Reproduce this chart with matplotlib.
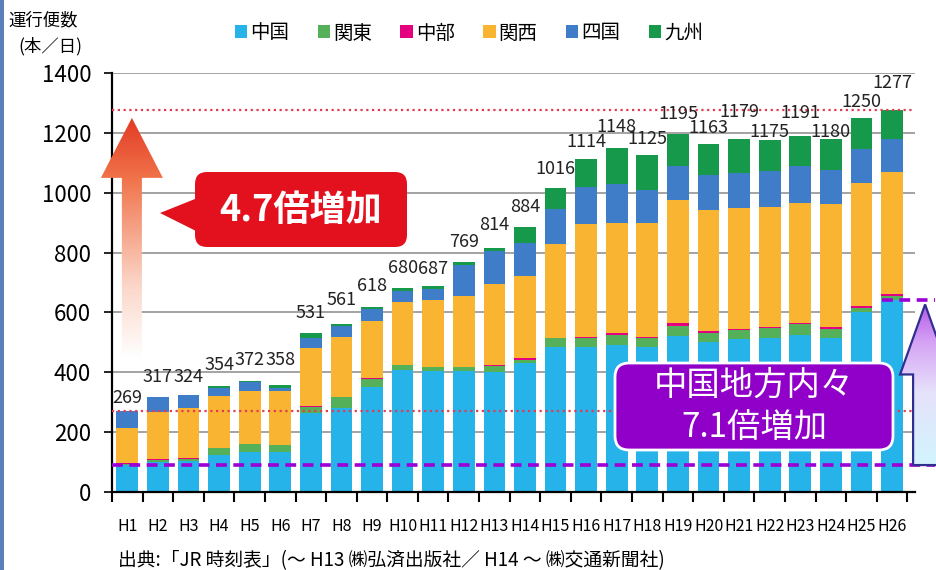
import numpy as np
import matplotlib
matplotlib.use('Agg')
import matplotlib.pyplot as plt
from matplotlib.patches import Polygon, FancyBboxPatch, Rectangle
from matplotlib.colors import LinearSegmentedColormap

plt.rcParams['font.family'] = ['Noto Sans CJK JP', 'DejaVu Sans']

# 運行便数 (本/日), 地域別の内訳
years = ['H%d' % i for i in range(1, 27)]
chugoku = [90, 100, 103, 124, 135, 135, 263, 280, 352, 408, 405, 405, 402,
           430, 485, 485, 490, 485, 520, 500, 510, 515, 525, 515, 600, 640]
kanto = [4, 8, 8, 22, 24, 22, 22, 37, 27, 16, 12, 12, 20,
         12, 28, 30, 35, 30, 36, 30, 30, 32, 38, 30, 15, 15]
chubu = [2, 2, 2, 1, 1, 1, 1, 1, 1, 1, 1, 2, 2,
         5, 2, 4, 5, 4, 9, 8, 5, 5, 2, 6, 6, 5]
kansai = [118, 157, 167, 175, 178, 178, 195, 200, 190, 210, 225, 235, 270,
          275, 315, 375, 370, 380, 410, 405, 405, 400, 400, 410, 410, 410]
shikoku = [55, 50, 44, 26, 28, 12, 35, 35, 40, 35, 34, 105, 110,
           110, 115, 125, 130, 110, 115, 115, 115, 120, 125, 115, 115, 110]
kyushu = [0, 0, 0, 6, 6, 10, 15, 8, 8, 10, 10, 10, 10,
          52, 71, 95, 118, 116, 105, 105, 114, 103, 101, 104, 104, 97]

regions = ['中国', '関東', '中部', '関西', '四国', '九州']
colors = ['#25b3ea', '#55b05a', '#e4007f', '#f9b431', '#3f7dc9', '#16994a']

# how far (px) each total label sits above its bar
label_lift = [13, 20, 18, 21, 21, 25, 20, 24, 21, 20, 17, 20, 23,
              20, 19, 17, 21, 16, 20, 16, 27, 8, 23, 7, 16, 27]

series = [chugoku, kanto, chubu, kansai, shikoku, kyushu]
totals = np.sum(series, axis=0)

fig = plt.figure(figsize=(9.37, 5.70), dpi=100)
ax = fig.add_axes([112 / 937, 1 - 492 / 570, (915 - 112) / 937, (492 - 73) / 570])

x = np.arange(len(years))
bottom = np.zeros(len(years))
for vals, name, c in zip(series, regions, colors):
    ax.bar(x, vals, 0.71, bottom=bottom, color=c, label=name, zorder=2)
    bottom += vals

for i, t in enumerate(totals):
    ax.annotate(str(int(t)), (i, t), xytext=(0, label_lift[i]), textcoords='offset pixels',
                ha='center', va='center', fontsize=13, color='#222222', zorder=6)

ax.set_xlim(-0.5, 25.75)
ax.set_ylim(0, 1400)
ax.set_yticks(range(0, 1401, 200))
ax.tick_params(axis='y', length=6, width=1.2, pad=9, labelsize=16)
ax.set_xticks(np.arange(-0.5, 26, 1))
ax.set_xticklabels([])
ax.set_xticks(x, minor=True)
ax.set_xticklabels(years, minor=True)
ax.tick_params(axis='x', which='major', length=7, width=1.5)
ax.tick_params(axis='x', which='minor', length=0, pad=19, labelsize=11.5)
ax.yaxis.grid(True, color='#8a8a8a', lw=1.1)
ax.set_axisbelow(True)
for s in ['top', 'right']:
    ax.spines[s].set_visible(False)
ax.spines['left'].set_linewidth(1.6)
ax.spines['bottom'].set_linewidth(1.6)

# growth reference lines
ax.axhline(totals[0], color='#e23c55', lw=1.6, ls=(0, (1, 1.6)), zorder=4)
ax.axhline(totals[-1], color='#e23c55', lw=1.6, ls=(0, (1, 1.6)), zorder=4)
ax.plot([-0.5, 26.4], [chugoku[0]] * 2, color='#9b00d6', lw=2.6, dashes=(3, 1.8),
        clip_on=False, zorder=4)
ax.plot([24.67, 26.4], [chugoku[-1]] * 2, color='#9b00d6', lw=2.6, dashes=(3, 1.8),
        clip_on=False, zorder=4)

ax.legend(ncol=6, loc='center', bbox_to_anchor=(469 / 937, 1 - 33 / 570),
          bbox_transform=fig.transFigure, frameon=False, fontsize=14,
          handlelength=0.65, handleheight=0.65, handletextpad=0.15,
          columnspacing=1.45)

fig.text(43 / 937, 1 - 20 / 570, '運行便数', ha='center', va='center', fontsize=12.5)
fig.text(50 / 937, 1 - 46 / 570, '(本／日)', ha='center', va='center', fontsize=12.5)
fig.text(118 / 937, 1 - 561 / 570, '出典:「JR 時刻表」(～ H13 ㈱弘済出版社／ H14 ～ ㈱交通新聞社)',
         ha='left', va='center', fontsize=13.5)

# overlay in figure pixels for arrows and callouts
ov = fig.add_axes([0, 0, 1, 1], zorder=5)
ov.patch.set_alpha(0)
ov.axis('off')


def to_px(xd, yd):
    return ax.transData.transform((xd, yd))


def grad_arrow(xc, y0, y1, shaft_hw, head_hw, head_len, stops, edge=None):
    pts = [(xc - shaft_hw, y0), (xc - shaft_hw, y1 - head_len), (xc - head_hw, y1 - head_len),
           (xc, y1), (xc + head_hw, y1 - head_len), (xc + shaft_hw, y1 - head_len),
           (xc + shaft_hw, y0)]
    poly = Polygon(pts, closed=True, fc='none', ec=edge if edge else 'none', lw=1.6, zorder=3)
    ov.add_patch(poly)
    cmap = LinearSegmentedColormap.from_list('g', stops)
    grad = np.linspace(0, 1, 256).reshape(-1, 1)
    im = ov.imshow(grad, cmap=cmap, extent=(xc - head_hw, xc + head_hw, y0, y1),
                   origin='lower', aspect='auto', zorder=2, interpolation='bilinear')
    im.set_clip_path(poly)


# red arrow: total growth H1 -> H26
rx, rtop = to_px(0.15, 1250)
_, rbot = to_px(0.15, 450)
grad_arrow(rx, rbot, rtop, 10, 31, 60,
           [(0, '#ffffff'), (0.3, '#fbd6c8'), (0.75, '#f07249'), (1, '#e23a25')])

# purple arrow: 中国 growth H1 -> H26
px_, ptop = to_px(26.08, chugoku[-1])
_, pbot = to_px(26.08, chugoku[0])
grad_arrow(px_, pbot, ptop - 4, 12, 25, 70,
           [(0, '#d2f4ff'), (0.45, '#e6e2fb'), (0.75, '#d7a6f5'), (1, '#b35ae8')],
           edge='#2f2f8f')

# red callout
ov.add_patch(FancyBboxPatch((195, 570 - 247), 212, 75,
                            boxstyle='round,pad=0,rounding_size=12',
                            fc='#e3101e', ec='none', zorder=4))
ov.add_patch(Polygon([(160, 570 - 213), (200, 570 - 197), (200, 570 - 233)],
                     closed=True, fc='#e3101e', ec='none', zorder=4))
ov.text(301, 570 - 211, '4.7倍増加', ha='center', va='center', fontsize=26,
        fontweight='bold', color='white', zorder=5)

# purple callout
ov.add_patch(FancyBboxPatch((615, 570 - 450), 278, 87,
                            boxstyle='round,pad=0,rounding_size=14',
                            fc='#9000c8', ec='white', lw=2, zorder=4))
ov.text(754, 570 - 385, '中国地方内々', ha='center', va='center', fontsize=24,
        color='white', zorder=5)
ov.text(754, 570 - 428, '7.1倍増加', ha='center', va='center', fontsize=24,
        color='white', zorder=5)

# left frame stripe
ov.add_patch(Rectangle((0, 0), 4, 570, fc='#5b7fb8', ec='none', zorder=1))

ov.set_xlim(0, 937)
ov.set_ylim(0, 570)

fig.savefig('out.png', dpi=100)
